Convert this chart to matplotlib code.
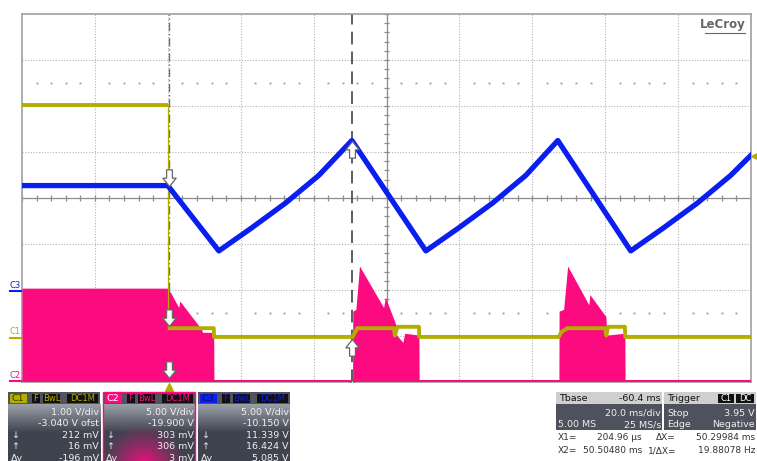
import numpy as np
import matplotlib.pyplot as plt
from matplotlib.patches import Rectangle
from matplotlib.path import Path
from matplotlib.colors import to_rgb

W, H = 757, 461

# channel vertical settings: V/div and offset (V)
c1_vdiv, c1_ofs = 1.0, -3.040
c2_vdiv, c2_ofs = 5.0, -19.900
c3_vdiv, c3_ofs = 5.0, -10.150

# C3 - output (time ms, volts)
c3_t = [-40, 0, 14.0, 23.0, 32.3, 41.4, 50.5,
        70.8, 79.8, 89.1, 98.2, 107.0,
        127.0, 136.0, 145.3, 154.4, 160]
c3_v = [11.5, 11.5, 4.4, 6.9, 9.6, 12.6, 16.4,
        4.4, 6.9, 9.6, 12.6, 16.4,
        4.4, 6.9, 9.6, 12.6, 14.8]

# C2 - switching node envelope (time ms, volts)
c2_t = [-40, 0, 0.8, 3.0, 3.3, 9.3, 9.5, 12.6, 12.65,
        50.7, 50.75, 51.6, 52.6, 59.2, 59.7, 62.6, 62.8, 64.5, 65.0, 68.9, 68.95,
        107.3, 107.35, 108.6, 109.7, 115.5, 115.8, 120.2, 120.4, 125.4, 125.45, 160]
c2_v = [10.1, 10.1, 9.6, 8.0, 8.7, 5.6, 5.3, 5.3, 0,
        0, 7.6, 7.8, 12.5, 8.0, 9.1, 6.1, 5.0, 4.2, 5.2, 5.0, 0,
        0, 7.6, 7.8, 12.5, 8.3, 9.4, 7.0, 5.0, 5.2, 0, 0]

# C1 - enable (time ms, volts); the falling edge sits at t = 0
c1_pre_t = [-40, 0]
c1_pre_v = [5.06, 5.06]
c1_t = [0, 12.6, 12.7, 50.7, 52.0, 62.0, 62.3, 63.0, 68.9, 69.0,
        107.3, 108.0, 109.7, 119.9, 120.3, 120.8, 125.4, 125.5, 160]
c1_v = [0.21, 0.21, 0.02, 0.02, 0.21, 0.21, 0.05, 0.24, 0.24, 0.02,
        0.02, 0.13, 0.21, 0.21, 0.05, 0.24, 0.24, 0.02, 0.02]

x1_ms, x2_ms = 0.205, 50.5048
trig_level = 3.95

yellow = '#b3ad00'
pink = '#fc0a80'
blue = '#0a1ef0'


def to_div(v, vdiv, ofs):
    return np.asarray(v) / vdiv + ofs / vdiv


fig = plt.figure(figsize=(W / 100, H / 100), dpi=100)
fig.patch.set_facecolor('white')

ax = fig.add_axes([22 / W, 1 - 382 / H, 729 / W, 368 / H])
ax.set_xlim(-40, 160)
ax.set_ylim(-4, 4)
ax.set_xticks([])
ax.set_yticks([])
for s in ax.spines.values():
    s.set_color('#a0a0a0')
    s.set_linewidth(1.2)

# graticule
for k in range(1, 10):
    if k != 5:
        ax.axvline(-40 + 20 * k, color='#b4b4b4', lw=0.8, ls=(0, (1, 1.5)), zorder=1)
for k in range(-3, 4):
    if k != 0:
        ax.axhline(k, color='#b4b4b4', lw=0.8, ls=(0, (1, 1.5)), zorder=1)
ax.axhline(0, color='#8c8c8c', lw=0.9, zorder=1)
ax.axvline(60, color='#8c8c8c', lw=0.9, zorder=1)
ax.vlines(np.arange(-40, 161, 4), -0.07, 0.07, color='#8c8c8c', lw=0.9, zorder=1)
ax.hlines(np.arange(-4, 4.01, 0.2), 59.2, 60.8, color='#8c8c8c', lw=0.9, zorder=1)
dots = [t for t in np.arange(-36, 160, 4) if (t + 40) % 20 != 0]
ax.plot(dots, [2.5] * len(dots), ls='none', marker='.', ms=1.3, color='#aaaaaa', zorder=1)
ax.plot(dots, [-2.5] * len(dots), ls='none', marker='.', ms=1.3, color='#aaaaaa', zorder=1)

# cursors
ax.axvline(x1_ms, color='#707070', lw=1.0, ls=(0, (6, 2, 1, 2)), zorder=2)
ax.axvline(x2_ms, color='#505050', lw=1.3, ls=(0, (7, 4)), zorder=2)

# traces
c2_base = to_div(0, c2_vdiv, c2_ofs)
ax.fill_between(c2_t, c2_base, to_div(c2_v, c2_vdiv, c2_ofs), color=pink, lw=0, zorder=3)
ax.plot([-40, 160], [c2_base, c2_base], color=pink, lw=2.2, zorder=3, solid_capstyle='butt')
ax.plot(c1_pre_t, to_div(c1_pre_v, c1_vdiv, c1_ofs), color=yellow, lw=2.8, zorder=4,
        solid_capstyle='butt')
ax.plot([0, 0], to_div([c1_pre_v[-1], c1_v[0]], c1_vdiv, c1_ofs), color=yellow, lw=0.9, zorder=4)
ax.plot(c1_t, to_div(c1_v, c1_vdiv, c1_ofs), color=yellow, lw=2.8, zorder=4,
        solid_capstyle='butt')
ax.plot(c3_t, to_div(c3_v, c3_vdiv, c3_ofs), color=blue, lw=3.8, zorder=5)

# cursor arrows
down = Path([(-0.35, 2), (0.35, 2), (0.35, 1), (0.8, 1), (0, 0), (-0.8, 1), (-0.35, 1), (-0.35, 2)],
            [1, 2, 2, 2, 2, 2, 2, 79])
up = Path([(-0.35, -2), (0.35, -2), (0.35, -1), (0.8, -1), (0, 0), (-0.8, -1), (-0.35, -1), (-0.35, -2)],
          [1, 2, 2, 2, 2, 2, 2, 79])
arr = dict(ms=24, mfc='white', mec='#666666', mew=0.9, ls='none', zorder=6)
ax.plot([x1_ms] * 3, [to_div(11.5, c3_vdiv, c3_ofs), to_div(0.21, c1_vdiv, c1_ofs) + 0.05,
                     c2_base + 0.06], marker=down, **arr)
ax.plot([x2_ms] * 3, [to_div(16.4, c3_vdiv, c3_ofs), to_div(0.02, c1_vdiv, c1_ofs) - 0.05,
                     c2_base + 0.02], marker=up, **arr)

# trigger position / level markers
ax.plot([x1_ms], [-4.11], marker='^', ms=6, color=yellow, clip_on=False, zorder=6)
ax.plot([161.2], [to_div(trig_level, c1_vdiv, c1_ofs)], marker='<', ms=6, color=yellow,
        clip_on=False, zorder=6)

ax.text(158.5, 3.78, 'LeCroy', ha='right', va='center', fontsize=8.5, color='#666666',
        fontweight='bold', zorder=7)
ax.plot([147.5, 158.3], [3.58, 3.58], color='#666666', lw=0.8, zorder=7)


def fx(x):
    return x / W


def fy(y):
    return 1 - y / H


def rect(x0, y0, x1, y1, fc, ec='none', lw=0.8, z=2):
    fig.add_artist(Rectangle((fx(x0), fy(y1)), (x1 - x0) / W, (y1 - y0) / H,
                             transform=fig.transFigure, fc=fc, ec=ec, lw=lw, zorder=z))


def label(x, y, s, color, ha='left', size=6.8, weight='normal'):
    fig.text(fx(x), fy(y), s, color=color, ha=ha, va='center', fontsize=size,
             fontweight=weight, zorder=5)


def body(x0, y0, x1, y1, glow=None):
    bx = fig.add_axes([fx(x0), fy(y1), (x1 - x0) / W, (y1 - y0) / H], zorder=1)
    bx.axis('off')
    h, w = int(y1 - y0), int(x1 - x0)
    yy = np.linspace(0, 1, h)[:, None, None]
    top, bot = np.array(to_rgb('#9b9fa8')), np.array(to_rgb('#3f434f'))
    k = np.clip(yy / 0.5, 0, 1)
    img = np.broadcast_to(top * (1 - k) + bot * k, (h, w, 3)).copy()
    if glow is not None:
        gx, gy, r = glow
        xx = np.arange(w)[None, :]
        yyp = np.arange(h)[:, None]
        d = np.sqrt((xx - gx) ** 2 + (yyp - gy) ** 2) / r
        a = np.clip(1 - d, 0, 1)[..., None] ** 1.3
        img = img * (1 - a) + np.array(to_rgb(pink)) * a
    bx.imshow(img, aspect='auto', interpolation='bilinear')


# left channel tags
for name, col, yy in [('C3', blue, 285), ('C1', yellow, 332), ('C2', pink, 375)]:
    label(9, yy, name, col, size=6)
    fig.add_artist(plt.Line2D([fx(10), fx(21)], [fy(yy + 6), fy(yy + 6)], color=col, lw=1.5))

# channel panels
panels = [
    (8, 'C1', yellow, '#3a3600', ['1.00 V/div', '-3.040 V ofst', '212 mV', '16 mV', '-196 mV'], None),
    (103, 'C2', pink, 'white', ['5.00 V/div', '-19.900 V', '303 mV', '306 mV', '3 mV'], (40, 62, 45)),
    (198, 'C3', blue, '#000a60', ['5.00 V/div', '-10.150 V', '11.339 V', '16.424 V', '5.085 V'], None),
]
for x0, name, col, tcol, rows, glow in panels:
    x1 = x0 + 92
    rect(x0, 392, x1, 404, '#50545e')
    body(x0, 404, x1, 461, glow)
    if name == 'C2':
        rect(x0, 392, x1, 470, 'none', ec=pink, lw=1.0, z=3)
    rect(x0 + 2, 393.5, x0 + 19, 403, col, z=3)
    label(x0 + 3, 398.5, name, tcol, size=6.8)
    for bx0, bx1, s in [(24, 32, 'F'), (35, 52, 'BwL'), (59, 90, 'DC1M')]:
        rect(x0 + bx0, 394, x0 + bx1, 403, '#111111', z=3)
        label((2 * x0 + bx0 + bx1) / 2, 398.5, s, col, ha='center', size=6)
    for i, s in enumerate(rows):
        label(x1 - 1, 412 + i * 11.5, s, '#f0f0f0', ha='right')
    for i, s in enumerate(['\u2193', '\u2191', '\u0394y']):
        label(x0 + 3, 435 + i * 11.5, s, '#f0f0f0')

# timebase panel
rect(556, 392, 662, 404, '#cfcfcf')
rect(556, 404, 662, 430, '#4e525c')
label(559, 398, 'Tbase', '#111111')
label(661, 398, '-60.4 ms', '#111111', ha='right')
label(661, 413, '20.0 ms/div', '#f0f0f0', ha='right')
label(558, 424.5, '5.00 MS', '#f0f0f0')
label(661, 424.5, '25 MS/s', '#f0f0f0', ha='right')

# trigger panel
rect(664, 392, 756, 404, '#cfcfcf')
rect(664, 404, 756, 430, '#4e525c')
label(667, 398, 'Trigger', '#111111')
rect(718, 393.5, 734, 403, '#111111', z=3)
rect(736, 393.5, 754, 403, '#111111', z=3)
label(726, 398.5, 'C1', 'white', ha='center', size=6)
label(745, 398.5, 'DC', 'white', ha='center', size=6)
label(667, 413, 'Stop', '#f0f0f0')
label(755, 413, '3.95 V', '#f0f0f0', ha='right')
label(667, 424.5, 'Edge', '#f0f0f0')
label(755, 424.5, 'Negative', '#f0f0f0', ha='right')

# cursor readouts
ro = dict(size=6.5)
label(558, 437.5, 'X1=', '#333333', **ro)
label(642, 437.5, '204.96 \u00b5s', '#333333', ha='right', **ro)
label(676, 437.5, '\u0394X=', '#333333', ha='right', **ro)
label(755, 437.5, '50.29984 ms', '#333333', ha='right', **ro)
label(558, 450.5, 'X2=', '#333333', **ro)
label(642, 450.5, '50.50480 ms', '#333333', ha='right', **ro)
label(676, 450.5, '1/\u0394X=', '#333333', ha='right', **ro)
label(755, 450.5, '19.88078 Hz', '#333333', ha='right', **ro)

fig.savefig('out.png', dpi=100, facecolor='white')
